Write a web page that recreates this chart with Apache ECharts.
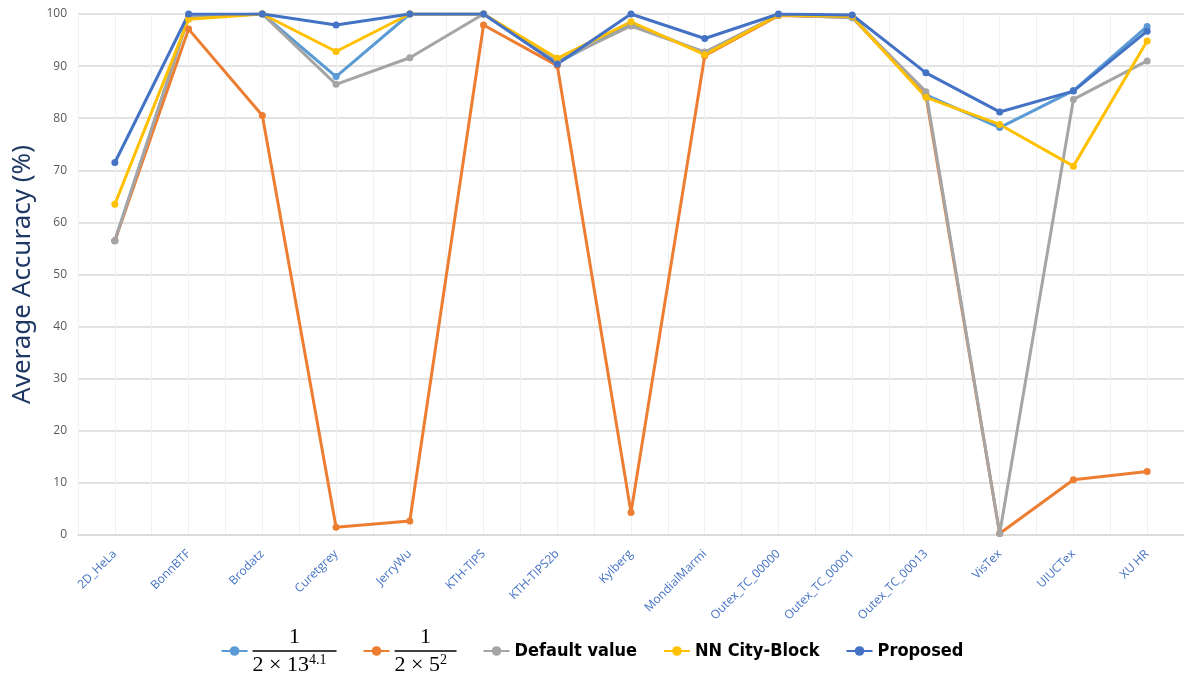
<!DOCTYPE html>
<html>
<head>
<meta charset="utf-8">
<style>
  html, body { margin: 0; padding: 0; background: #fff; }
  #main { width: 1184px; height: 675px; }
</style>
<script src="https://cdn.jsdelivr.net/npm/echarts@6/dist/echarts.min.js"></script>
</head>
<body>
<div id="main"></div>
<script>
// 数据集
var categories = ['2D_HeLa', 'BonnBTF', 'Brodatz', 'Curetgrey', 'JerryWu', 'KTH-TIPS', 'KTH-TIPS2b',
    'Kylberg', 'MondialMarmi', 'Outex_TC_00000', 'Outex_TC_00001', 'Outex_TC_00013', 'VisTex', 'UIUCTex', 'XU HR'];

var sigmaA = [56.5, 99.5, 100, 88.0, 100, 100, 90.6, 98.2, 92.5, 99.8, 99.5, 84.5, 78.2, 85.3, 97.6];
var sigmaB = [56.5, 97.1, 80.5, 1.5, 2.7, 97.9, 90.1, 4.3, 92.0, 99.7, 99.4, 84.3, 0.3, 10.6, 12.2];
var defaultValue = [56.5, 99.5, 100, 86.5, 91.6, 100, 90.9, 97.7, 92.7, 99.8, 99.3, 85.1, 0.3, 83.6, 91.0];
var cityBlock = [63.5, 99.0, 100, 92.8, 100, 100, 91.5, 98.5, 92.2, 99.8, 99.5, 84.0, 78.8, 70.8, 94.8];
var proposed = [71.5, 100, 100, 97.9, 100, 100, 90.4, 100, 95.3, 100, 99.8, 88.7, 81.2, 85.2, 96.7];

var yTicks = [0, 10, 20, 30, 40, 50, 60, 70, 80, 90, 100];

var names = ['sigmaA', 'sigmaB', 'Default value', 'NN City-Block', 'Proposed'];
var colors = ['#5B9BD5', '#ED7D31', '#A5A5A5', '#FFC000', '#4472C4'];
var values = [sigmaA, sigmaB, defaultValue, cityBlock, proposed];

var chart = echarts.init(document.getElementById('main'));

function makeSeries() {
    return values.map(function (v, i) {
        return {
            name: names[i],
            type: 'line',
            data: v,
            xAxisIndex: 0,
            color: colors[i],
            symbol: 'circle',
            symbolSize: 7,
            lineStyle: { width: 3, color: colors[i] },
            itemStyle: { color: colors[i] },
            emphasis: { disabled: true },
            animation: false
        };
    });
}

var option = {
    animation: false,
    grid: { left: 78, right: 0, top: 14, bottom: 140, containLabel: false },
    legend: {
        data: names,
        left: 'center',
        top: 621,
        itemWidth: 26,
        itemHeight: 12,
        itemGap: 26,
        textStyle: {
            fontFamily: 'DejaVu Sans Condensed, sans-serif',
            fontWeight: 'bold',
            fontSize: 18,
            color: '#000',
            rich: {
                n: { fontFamily: 'Liberation Serif', fontWeight: 'normal', fontSize: 22, lineHeight: 24, align: 'center', color: '#000' },
                barA: { width: 84, height: 1.5, lineHeight: 4, backgroundColor: '#000', fontSize: 1 },
                barB: { width: 62, height: 1.5, lineHeight: 4, backgroundColor: '#000', fontSize: 1 },
                d: { fontFamily: 'Liberation Serif', fontWeight: 'normal', fontSize: 22, lineHeight: 24, color: '#000' },
                s: { fontFamily: 'Liberation Serif', fontWeight: 'normal', fontSize: 14, lineHeight: 24, verticalAlign: 'top', color: '#000' }
            }
        },
        formatter: function (name) {
            if (name === 'sigmaA') return '{n|1}\n{barA| }\n{d|2 × 13}{s|4.1}';
            if (name === 'sigmaB') return '{n|1}\n{barB| }\n{d|2 × 5}{s|2}';
            return name;
        }
    },
    xAxis: [{
        type: 'category',
        data: categories,
        boundaryGap: true,
        axisLine: { show: true, lineStyle: { color: '#D9D9D9', width: 1.5 } },
        axisTick: { show: false },
        splitLine: { show: false },
        axisLabel: {
            rotate: 45,
            interval: 0,
            margin: 17,
            color: '#4472C4',
            fontSize: 12,
            fontFamily: 'Open Sans, sans-serif'
        }
    }, {
        type: 'value',
        min: 0,
        max: 30,
        interval: 1,
        position: 'bottom',
        show: true,
        axisLine: { show: false },
        axisTick: { show: false },
        axisLabel: { show: false },
        splitLine: { show: true, lineStyle: { color: '#F0F0F0', width: 1 } }
    }],
    yAxis: {
        type: 'value',
        min: yTicks[0],
        max: yTicks[yTicks.length - 1],
        interval: 10,
        name: 'Average Accuracy (%)',
        nameLocation: 'middle',
        nameGap: 39,
        nameTextStyle: { color: '#1F3864', fontSize: 26, fontFamily: 'Noto Sans, sans-serif' },
        axisLine: { show: false },
        axisTick: { show: false },
        axisLabel: { color: '#595959', fontSize: 12, margin: 11, fontFamily: 'Open Sans, sans-serif' },
        splitLine: { show: true, lineStyle: { color: '#D9D9D9', width: 1.5 } }
    },
    series: makeSeries()
};

chart.setOption(option);
</script>
</body>
</html>
